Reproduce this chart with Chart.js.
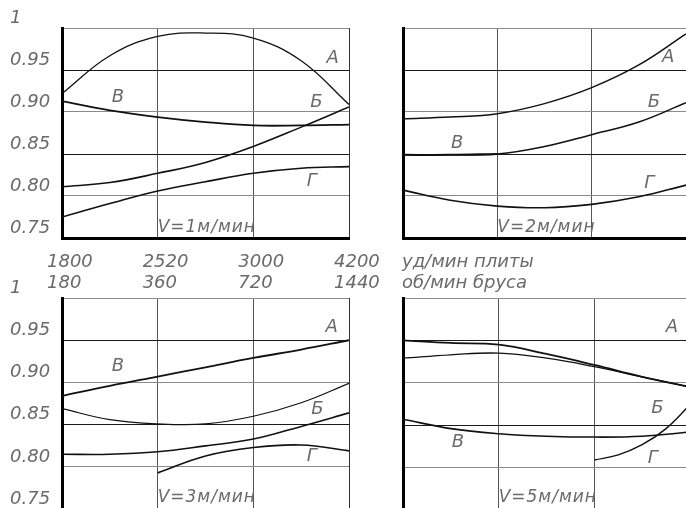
<!DOCTYPE html>
<html><head><meta charset="utf-8">
<script src="https://cdn.jsdelivr.net/npm/chart.js@4.4.1/dist/chart.umd.min.js"></script>
<style>
html,body{margin:0;padding:0;width:686px;height:508px;overflow:hidden;background:#fff;}
canvas{position:absolute;left:0;top:0;}
</style></head><body>
<canvas id="c1" width="700" height="520"></canvas>
<canvas id="c2" width="700" height="520"></canvas>
<canvas id="c3" width="700" height="520"></canvas>
<canvas id="c4" width="700" height="520"></canvas>
<script>
// ---------- data ----------
const strokesPerMin = ['1800', '2520', '3000', '4200'];   // уд/мин плиты
const revsPerMin    = ['180', '360', '720', '1440'];      // об/мин бруса
const unitTop = 'уд/мин плиты';
const unitBottom = 'об/мин бруса';
const yMin = 0.75, yMax = 1.0, yStep = 0.05;
const speeds = ['V=1м/мин', 'V=2м/мин', 'V=3м/мин', 'V=5м/мин'];
const curveNames = ['А', 'Б', 'В', 'Г'];

// sample positions along the (equally spaced) speed axis, 0..3
const xs = [0, 0.5, 1, 1.5, 2, 2.5, 3];

// V = 1 м/мин
const v1A = [0.922, 0.967, 0.990, 0.994, 0.988, 0.961, 0.909];
const v1B = [0.811, 0.816, 0.827, 0.840, 0.859, 0.882, 0.906];
const v1V = [0.913, 0.902, 0.894, 0.888, 0.884, 0.884, 0.885];
const v1G = [0.775, 0.791, 0.806, 0.817, 0.827, 0.833, 0.835];

// V = 2 м/мин
const v2A = [0.892, 0.894, 0.898, 0.910, 0.929, 0.956, 0.993];
const v2B = [0.849, 0.849, 0.850, 0.859, 0.873, 0.888, 0.911];
const v2Vx = [0, 0.5, 1];
const v2V = [0.849, 0.849, 0.850];
const v2G = [0.807, 0.795, 0.788, 0.786, 0.790, 0.799, 0.813];

// V = 3 м/мин
const v3A = [0.884, 0.896, 0.907, 0.918, 0.929, 0.939, 0.950];
const v3B = [0.869, 0.856, 0.851, 0.851, 0.860, 0.876, 0.899];
const v3V = [0.815, 0.815, 0.818, 0.825, 0.833, 0.848, 0.864];
const v3Gx = [1, 1.5, 2, 2.5, 3];
const v3G = [0.793, 0.813, 0.823, 0.826, 0.819];

// V = 5 м/мин
const v5A = [0.950, 0.947, 0.945, 0.934, 0.921, 0.907, 0.895];
const v5B = [0.929, 0.933, 0.935, 0.929, 0.919, 0.907, 0.895];
const v5V = [0.857, 0.846, 0.840, 0.837, 0.836, 0.837, 0.842];
const v5Gx = [2, 2.25, 2.5, 2.75, 3];
const v5G = [0.809, 0.815, 0.827, 0.846, 0.874];

// ---------- drawing ----------
const FONT = "'DejaVu Sans', 'Liberation Sans', sans-serif";
const TXT = '#6a6a6a';
Chart.defaults.font.family = FONT;

function pts(x, y) { return x.map((v, i) => ({ x: v, y: y[i] })); }
function ds(name, x, y, w) {
  return { label: name, data: pts(x, y), borderColor: '#111', borderWidth: w,
           pointRadius: 0, tension: 0.4, fill: false };
}

const panelText = {
  id: 'panelText',
  afterDatasetsDraw(chart, args, opts) {
    const { ctx } = chart; const sx = chart.scales.x, sy = chart.scales.y;
    ctx.save();
    ctx.fillStyle = TXT;
    ctx.textBaseline = 'middle';
    for (const it of opts.items || []) {
      ctx.font = 'italic ' + (it.size || 18) + 'px ' + FONT;
      ctx.textAlign = it.align || 'center';
      try { ctx.letterSpacing = (it.ls || 0) + 'px'; } catch (e) {}
      ctx.fillText(it.text, sx.getPixelForValue(it.x), sy.getPixelForValue(it.y));
    }
    ctx.restore();
  }
};

function yGridColor(c) {
  const k = Math.round(c.tick.value * 100);
  if (k === 95 || k === 85) return '#1a1a1a';
  if (k === 100) return '#8c8c8c';
  return '#8a8a8a';
}
function xGridColor(c) {
  return c.tick.value === 3 ? '#333' : '#555';
}

function panel(id, box, datasets, items, showY, xMode) {
  const yW = showY ? box.left - 10 : 0;
  const xH = xMode === 'none' ? 0 : 60;
  new Chart(document.getElementById(id), {
    type: 'line',
    data: { datasets },
    plugins: [panelText],
    options: {
      responsive: false, animation: false, events: [],
      layout: { padding: { left: showY ? 10 : box.left, top: box.top,
                           right: 700 - box.right, bottom: 520 - box.bottom - xH } },
      plugins: { legend: { display: false }, tooltip: { enabled: false },
                 panelText: { items } },
      scales: {
        x: {
          type: 'linear', min: 0, max: 3,
          afterFit(s) { s.height = xH; },
          ticks: {
            display: xMode !== 'none', stepSize: 1, autoSkip: false,
            maxRotation: 0, minRotation: 0, align: 'start',
            labelOffset: xMode === 'values' ? -15 : -1, padding: 14, color: TXT,
            font: { size: 18, style: 'italic', lineHeight: '21px' },
            callback: (v) => {
              if (xMode === 'values') return [strokesPerMin[v], revsPerMin[v]];
              if (xMode === 'units') return v === 0 ? [unitTop, unitBottom] : '';
              return '';
            }
          },
          grid: { color: xGridColor, lineWidth: 1, drawTicks: false },
          border: { display: true, color: '#000', width: 3 }
        },
        y: {
          type: 'linear', min: yMin, max: yMax,
          afterFit(s) { s.width = yW; },
          ticks: {
            display: showY, stepSize: yStep, crossAlign: 'far', labelOffset: -10,
            padding: 0, color: TXT, font: { size: 18, style: 'italic' },
            callback: (v) => Math.abs(v - 1) < 1e-9 ? '1' : Number(v).toFixed(2)
          },
          grid: { color: yGridColor, lineWidth: 1, drawTicks: false },
          border: { display: true, color: '#000', width: 3 }
        }
      }
    }
  });
}

function labels(speed, pos) {
  const items = curveNames.map((n, i) => ({ text: n, x: pos[i][0], y: pos[i][1] }));
  items.push({ text: speed, x: 1.0, y: pos[4], align: 'left', size: 17, ls: 1 });
  return items;
}

panel('c1', { left: 62, top: 28, right: 349, bottom: 238 }, [
  ds('А', xs, v1A, 1.3), ds('Б', xs, v1B, 1.6), ds('В', xs, v1V, 1.8), ds('Г', xs, v1G, 1.6)
], labels(speeds[0], [[2.83, 0.964], [2.66, 0.911], [0.585, 0.918], [2.61, 0.817], 0.762]), true, 'values');

panel('c2', { left: 403, top: 28, right: 690, bottom: 238 }, [
  ds('А', xs, v2A, 1.5), ds('Б', xs, v2B, 1.5), ds('В', v2Vx, v2V, 2), ds('Г', xs, v2G, 1.6)
], labels(speeds[1], [[2.81, 0.965], [2.66, 0.911], [0.575, 0.863], [2.61, 0.815], 0.763]), false, 'units');

panel('c3', { left: 62, top: 298, right: 349, bottom: 510 }, [
  ds('А', xs, v3A, 1.8), ds('Б', xs, v3B, 1.2), ds('В', xs, v3V, 1.6), ds('Г', v3Gx, v3G, 1.6)
], labels(speeds[2], [[2.82, 0.965], [2.67, 0.868], [0.585, 0.919], [2.61, 0.8125], 0.764]), true, 'none');

panel('c4', { left: 403, top: 298, right: 690, bottom: 510 }, [
  ds('А', xs, v5A, 1.8), ds('Б', xs, v5B, 1.3), ds('В', xs, v5V, 1.6), ds('Г', v5Gx, v5G, 1.4)
], labels(speeds[3], [[2.81, 0.965], [2.66, 0.870], [0.575, 0.830], [2.61, 0.811], 0.765]), false, 'none');
</script>
</body></html>
